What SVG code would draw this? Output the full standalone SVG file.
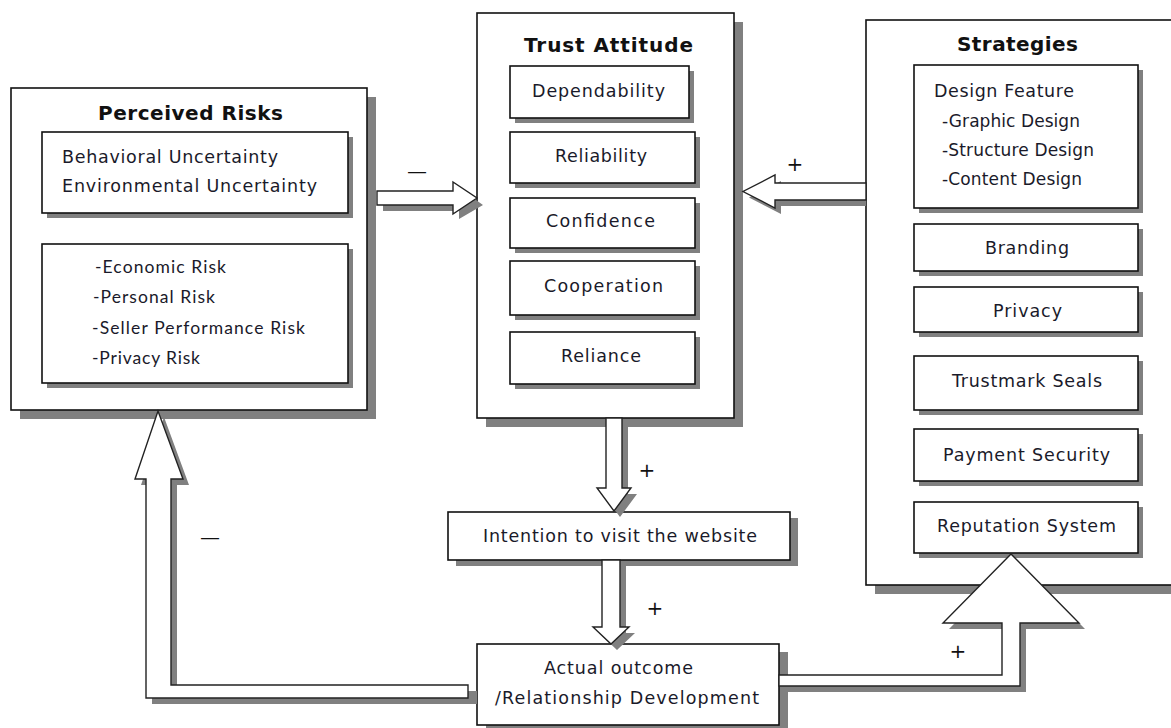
<svg xmlns="http://www.w3.org/2000/svg" width="1171" height="728" viewBox="0 0 1171 728">
<style>
.box{fill:#fff;stroke:#111;stroke-width:1.6}
.sh{fill:#808080}
.arr{fill:#fff;stroke:#222;stroke-width:1.4;stroke-linejoin:miter}
.ttl{font-family:"DejaVu Sans",Verdana,sans-serif;font-weight:bold;font-size:20px;fill:#111}
.v{font-family:"DejaVu Sans",Verdana,sans-serif;font-size:17.5px;fill:#1a1a2a}
.v2{font-family:"DejaVu Sans",Verdana,sans-serif;font-size:17px;fill:#1a1a2a}
.c{font-family:Lato,"Liberation Sans",Arial,sans-serif;font-size:17.5px;fill:#1a1a2a}
.sg{font-family:"DejaVu Sans",sans-serif;font-size:20px;fill:#111}
</style>
<rect width="1171" height="728" fill="#fff"/>

<g id="perceived-risks">
<rect class="sh" x="20" y="97" width="356" height="322"/>
<rect class="box" x="11" y="88" width="356" height="322"/>
<text class="ttl" x="98" y="120" textLength="185">Perceived Risks</text>
<rect class="sh" x="47" y="137" width="306" height="81"/>
<rect class="box" x="42" y="132" width="306" height="81"/>
<text class="v" x="62" y="163" textLength="216">Behavioral Uncertainty</text>
<text class="v" x="62" y="192" textLength="255">Environmental Uncertainty</text>
<rect class="sh" x="47" y="249" width="306" height="139"/>
<rect class="box" x="42" y="244" width="306" height="139"/>
<text class="c" x="95" y="273" textLength="131">-Economic Risk</text>
<text class="c" x="93" y="303" textLength="122">-Personal Risk</text>
<text class="c" x="92" y="334" textLength="213">-Seller Performance Risk</text>
<text class="c" x="92" y="364" textLength="108">-Privacy Risk</text>
</g>

<g id="trust-attitude">
<rect class="sh" x="486" y="22" width="257" height="405"/>
<rect class="box" x="477" y="13" width="257" height="405"/>
<text class="ttl" x="524" y="52" textLength="169">Trust Attitude</text>
<rect class="sh" x="515" y="71" width="179" height="52"/>
<rect class="box" x="510" y="66" width="179" height="52"/>
<text class="v" x="532" y="97" textLength="133">Dependability</text>
<rect class="sh" x="515" y="137" width="185" height="51"/>
<rect class="box" x="510" y="132" width="185" height="51"/>
<text class="v" x="555" y="162" textLength="92">Reliability</text>
<rect class="sh" x="515" y="203" width="185" height="50"/>
<rect class="box" x="510" y="198" width="185" height="50"/>
<text class="v" x="546" y="227" textLength="109">Confidence</text>
<rect class="sh" x="515" y="266" width="185" height="54"/>
<rect class="box" x="510" y="261" width="185" height="54"/>
<text class="v" x="544" y="292" textLength="119">Cooperation</text>
<rect class="sh" x="515" y="337" width="185" height="52"/>
<rect class="box" x="510" y="332" width="185" height="52"/>
<text class="v" x="561" y="362" textLength="80">Reliance</text>
</g>

<g id="strategies">
<rect class="sh" x="875" y="29" width="320" height="565"/>
<rect class="box" x="866" y="20" width="320" height="565"/>
<text class="ttl" x="957" y="51" textLength="121">Strategies</text>
<rect class="sh" x="919" y="70" width="224" height="143"/>
<rect class="box" x="914" y="65" width="224" height="143"/>
<text class="v" x="934" y="97" textLength="140">Design Feature</text>
<text class="v2" x="942" y="127" textLength="138">-Graphic Design</text>
<text class="v2" x="942" y="156" textLength="152">-Structure Design</text>
<text class="v2" x="942" y="185" textLength="140">-Content Design</text>
<rect class="sh" x="919" y="229" width="224" height="47"/>
<rect class="box" x="914" y="224" width="224" height="47"/>
<text class="v" x="985" y="254" textLength="84">Branding</text>
<rect class="sh" x="919" y="292" width="224" height="45"/>
<rect class="box" x="914" y="287" width="224" height="45"/>
<text class="v" x="993" y="317" textLength="69">Privacy</text>
<rect class="sh" x="919" y="361" width="224" height="54"/>
<rect class="box" x="914" y="356" width="224" height="54"/>
<text class="v" x="952" y="387" textLength="150">Trustmark Seals</text>
<rect class="sh" x="919" y="434" width="224" height="52"/>
<rect class="box" x="914" y="429" width="224" height="52"/>
<text class="v" x="943" y="461" textLength="167">Payment Security</text>
<rect class="sh" x="919" y="507" width="224" height="51"/>
<rect class="box" x="914" y="502" width="224" height="51"/>
<text class="v" x="937" y="532" textLength="179">Reputation System</text>
</g>

<g id="intention">
<rect class="sh" x="456" y="518" width="342" height="48"/>
<rect class="box" x="448" y="512" width="342" height="48"/>
<text class="v" x="483" y="542" textLength="274">Intention to visit the website</text>
</g>

<g id="actual-outcome">
<rect class="sh" x="486" y="652" width="302" height="81"/>
<rect class="box" x="477" y="644" width="302" height="81"/>
<text class="v" x="544" y="674" textLength="149">Actual outcome</text>
<text class="v" x="495" y="704" textLength="264">/Relationship Development</text>
</g>

<g id="connectors">
<path class="sh" d="M383,197 H459 V188 L483,205 L459,219 V211 H383 Z"/>
<path class="arr" d="M377,191 H453 V182 L477,198 L453,214 V205 H377 Z"/>
<path class="sh" d="M866,189 H781 V181 L749,197.5 L781,214 V206 H866 Z"/>
<path class="arr" d="M866,183 H775 V175 L743,191.5 L775,208 V200 H866 Z"/>
<path class="sh" d="M612,427 V494 H603 L620,517 L637,494 H628 V427 Z"/>
<path class="arr" d="M606,418 V488 H597 L614,511 L631,488 H622 V418 Z"/>
<path class="sh" d="M608,566 V633 H599 L617,650 L635,633 H626 V566 Z"/>
<path class="arr" d="M602,560 V627 H593 L611,644 L629,627 H620 V560 Z"/>
<path class="sh" d="M477,691 H177 V485 H189 L164,417 L141,485 H152 V704 H477 Z"/>
<path class="arr" d="M468,685 H171 V479 H183 L158,411 L135,479 H146 V698 H468 Z"/>
<path class="sh" d="M788,681 H1008 V629 H949 L1017,560 L1085,629 H1026 V692 H788 Z"/>
<path class="arr" d="M779,675 H1002 V623 H943 L1011,554 L1079,623 H1020 V686 H779 Z"/>
<text class="sg" x="407" y="178" textLength="19">—</text>
<text class="sg" x="200" y="544" textLength="20">—</text>
<text class="sg" x="795" y="171" text-anchor="middle">+</text>
<text class="sg" x="647" y="477" text-anchor="middle">+</text>
<text class="sg" x="655" y="615" text-anchor="middle">+</text>
<text class="sg" x="958" y="658" text-anchor="middle">+</text>
</g>
</svg>
